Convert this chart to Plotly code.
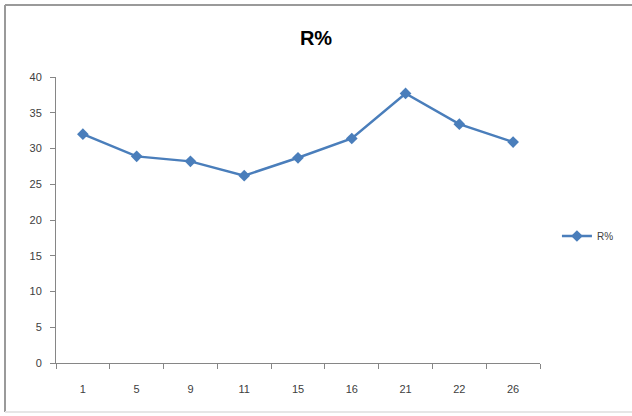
import plotly.graph_objects as go

categories = ["1", "5", "9", "11", "15", "16", "21", "22", "26"]
r_values = [32.0, 28.9, 28.2, 26.2, 28.7, 31.4, 37.7, 33.4, 30.9]
y_ticks = [0, 5, 10, 15, 20, 25, 30, 35, 40]
series_name = "R%"

line_color = "#4a7ebb"
axis_color = "#868686"
text_color = "#404040"

# frame edges in paper units (plot area: x 56..540 px, y 77..363 px)
fx0, fx1 = (5 - 56) / 484, (632 - 56) / 484
fy0, fy1 = (363 - 412) / 286, (363 - 5) / 286

fig = go.Figure()
fig.add_trace(go.Scatter(
    x=categories, y=r_values, name=series_name, mode="lines+markers",
    line=dict(color=line_color, width=2.5),
    marker=dict(symbol="diamond", size=9, color=line_color),
))

fig.update_layout(
    width=632, height=416,
    margin=dict(l=56, r=92, t=77, b=53),
    paper_bgcolor="white", plot_bgcolor="white",
    font=dict(family="Liberation Sans, Arial, sans-serif", size=11, color=text_color),
    title=dict(text="<b>R%</b>", x=0.5, xref="container", xanchor="center",
               y=1 - 38 / 416, yref="container", yanchor="middle",
               font=dict(size=20, color="black")),
    showlegend=True,
    legend=dict(x=1.035, xanchor="left", y=0.444, yanchor="middle",
                font=dict(size=10, color=text_color), itemwidth=30,
                bgcolor="rgba(0,0,0,0)"),
    xaxis=dict(type="category", categoryorder="array", categoryarray=categories,
               range=[-0.5, len(categories) - 0.5],
               showline=True, linecolor=axis_color, linewidth=1,
               ticks="outside", tickson="boundaries", ticklen=5, tickcolor=axis_color,
               showgrid=False, zeroline=False, ticklabelstandoff=16,
               fixedrange=True),
    yaxis=dict(range=[0, 40], tickvals=y_ticks,
               showline=True, linecolor=axis_color, linewidth=1,
               ticks="outside", ticklen=5, tickcolor=axis_color,
               showgrid=False, zeroline=False, ticklabelstandoff=6),
    shapes=[
        dict(type="line", xref="paper", yref="paper", x0=fx0, x1=fx1, y0=fy1, y1=fy1,
             line=dict(color="#9a9a9a", width=2), layer="below"),
        dict(type="line", xref="paper", yref="paper", x0=fx0, x1=fx0, y0=fy0, y1=fy1,
             line=dict(color="#9a9a9a", width=2), layer="below"),
        dict(type="line", xref="paper", yref="paper", x0=fx0, x1=fx1, y0=fy0, y1=fy0,
             line=dict(color="#e6e6e6", width=2), layer="below"),
    ],
)

fig.write_html("out.html", config={"displayModeBar": False})
